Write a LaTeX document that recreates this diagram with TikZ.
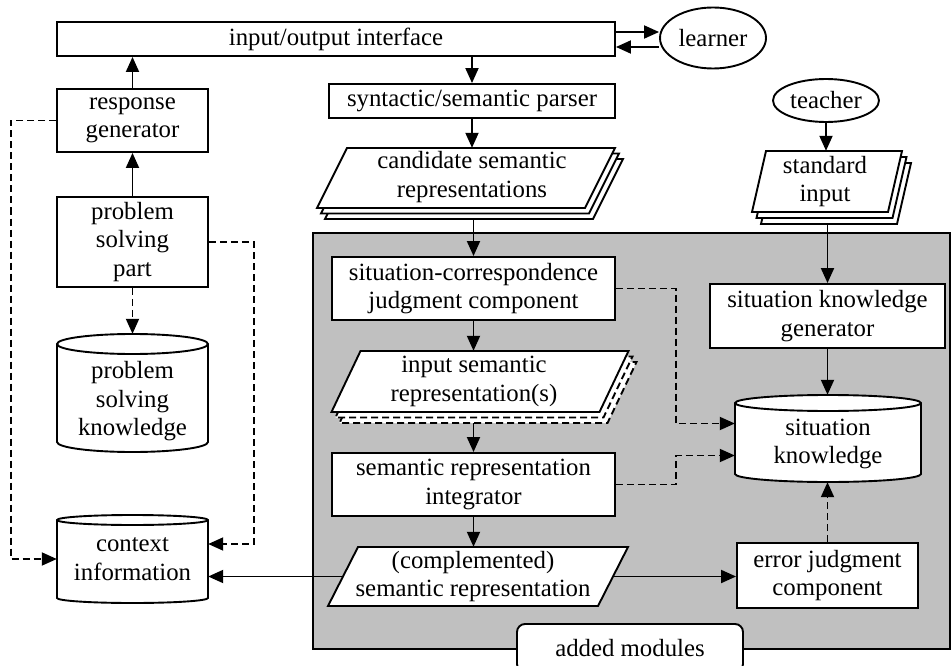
\documentclass[tikz,border=0pt]{standalone}
\usepackage{fontspec}
\setmainfont{Liberation Serif}
\usetikzlibrary{shapes.geometric,arrows.meta}
\definecolor{regiongray}{RGB}{192,192,192}

\tikzset{
  lw/.style={line width=1.9pt},
  arr/.style={lw, -{Triangle[length=15pt,width=13pt]}},
  darr/.style={arr, dash pattern=on 7pt off 4pt},
  box/.style={draw, lw, fill=white, inner sep=0pt, align=center},
  oval/.style={draw, ellipse, lw, fill=white, inner sep=0pt},
  lbl/.style={inner sep=0pt, align=center},
  blank/.style={inner sep=0pt},
  sheet/.style={draw, lw, fill=white},
  dsheet/.style={sheet, dash pattern=on 7pt off 4pt},
}

% parallelogram sheet: style, centre x, centre y, width, height, slant
\newcommand\sheetpath[6]{%
  \path[#1] ({#2-#4/2+#6/2},{#3-#5/2}) -- ({#2+#4/2+#6/2},{#3-#5/2})
    -- ({#2+#4/2-#6/2},{#3+#5/2}) -- ({#2-#4/2-#6/2},{#3+#5/2}) -- cycle;}

% database drum: left x, right x, top rim y, bottom rim y, rim half-height, half-width
\newcommand\drum[6]{%
  \draw[lw, fill=white] (#1,#3) -- (#1,#4)
    arc[start angle=180,end angle=360,x radius=#6pt,y radius=#5pt] -- (#2,#3)
    arc[start angle=0,end angle=180,x radius=#6pt,y radius=#5pt] -- cycle;
  \draw[lw] (#1,#3) arc[start angle=180,end angle=360,x radius=#6pt,y radius=#5pt];}

\begin{document}
\begin{tikzpicture}[x=1pt,y=-1pt,font=\fontsize{24.8}{28.5}\selectfont]
\useasboundingbox (0,0) rectangle (951,666);

% region holding the added modules
\draw[fill=regiongray, lw] (313,233) rectangle (950,649);
\node[draw, lw, fill=white, rounded corners=8pt, minimum width=226pt,
      minimum height=48pt, inner sep=0pt] (added) at (630,648) {added modules};

% top row
\node[box, minimum width=558pt, minimum height=34pt] (io) at (336,39) {input/output interface};
\node[oval, minimum width=106pt, minimum height=61pt] (learner) at (713,38) {learner};
\node[box, minimum width=286pt, minimum height=34pt] (parser) at (472,101) {syntactic/semantic parser};
\node[oval, minimum width=106pt, minimum height=43pt] (teacher) at (826,100.5) {teacher};

% left column
\node[box, minimum width=151pt, minimum height=63pt] (resp) at (132.5,120.5) {response\\generator};
\node[box, minimum width=151pt, minimum height=90pt] (psp) at (132.5,242) {problem\\solving\\part};
\drum{57}{208}{344}{442}{10}{75.5}
\node[blank, minimum width=151pt, minimum height=118pt] (psk) at (132.5,393) {};
\node[lbl] (pskText) at (132.5,401.5) {problem\\solving\\knowledge};
\drum{57}{208}{520}{598}{5}{75.5}
\node[lbl, minimum width=151pt, minimum height=88pt] (ctx) at (132.5,559) {context\\information};

% candidate semantic representations (stack of sheets)
\sheetpath{sheet, xshift=8pt, yshift=-11pt}{466}{178}{268}{60}{30}
\sheetpath{sheet, xshift=4pt, yshift=-5.5pt}{466}{178}{268}{60}{30}
\sheetpath{sheet}{466}{178}{268}{60}{30}
\node[blank, minimum width=268pt, minimum height=60pt] (cand) at (466,178) {};
\node[lbl] (candText) at (472,177) {candidate semantic\\representations};

% standard input (stack of sheets)
\sheetpath{sheet, xshift=9pt, yshift=-12pt}{827}{181.5}{136}{61}{14}
\sheetpath{sheet, xshift=4.5pt, yshift=-6pt}{827}{181.5}{136}{61}{14}
\sheetpath{sheet}{827}{181.5}{136}{61}{14}
\node[blank, minimum width=136pt, minimum height=61pt] (stdin) at (827,181.5) {};
\node[lbl] (stdinText) at (825,181.5) {standard\\input};

% added modules
\node[box, minimum width=283pt, minimum height=63pt] (sitc) at (473.5,288.5) {situation-correspondence\\judgment component};

\sheetpath{dsheet, xshift=8pt, yshift=-11pt}{480}{381.5}{268}{61}{29}
\sheetpath{dsheet, xshift=4pt, yshift=-5.5pt}{480}{381.5}{268}{61}{29}
\sheetpath{sheet}{480}{381.5}{268}{61}{29}
\node[blank, minimum width=268pt, minimum height=61pt] (insem) at (480,381.5) {};
\node[lbl] (insemText) at (474,381.5) {input semantic\\representation(s)};

\node[box, minimum width=283pt, minimum height=63pt] (integ) at (473.5,484.5) {semantic representation\\integrator};

\sheetpath{sheet}{478}{576.5}{270}{59}{30}
\node[blank, minimum width=270pt, minimum height=59pt] (comp) at (478,576.5) {};
\node[lbl] (compText) at (473,576.5) {(complemented)\\semantic representation};

\node[box, minimum width=235pt, minimum height=64pt] (skg) at (827.5,316) {situation knowledge\\generator};
\drum{735}{921}{403}{474}{8}{93}
\node[blank, minimum width=186pt, minimum height=87pt] (sitk) at (828,438.5) {};
\node[lbl] (sitkText) at (828,444) {situation\\knowledge};
\node[box, minimum width=181pt, minimum height=65pt] (err) at (827.5,575.5) {error judgment\\component};

% solid connectors
\draw[arr] ([yshift=7pt]io.east) -- ([yshift=7pt]io.east -| learner.west);
\draw[arr] ([yshift=-8pt]io.east -| learner.west) -- ([yshift=-8pt]io.east);
\draw[arr] (io.south -| parser.north) -- (parser.north);
\draw[arr] (parser.south) -- (parser.south |- cand.north);
\draw[arr] ([yshift=-11pt]cand.south -| sitc.north) -- (sitc.north);
\draw[arr] (sitc.south) -- (sitc.south |- insem.north);
\draw[arr] ([yshift=-11pt]insem.south -| integ.north) -- (integ.north);
\draw[arr] (integ.south) -- (integ.south |- comp.north);
\draw[arr] (comp.west) -- (comp.west -| ctx.east);
\draw[arr] (comp.east) -- (comp.east -| err.west);
\draw[arr] (teacher.south) -- (teacher.south |- stdin.north);
\draw[arr] ([yshift=-12pt]stdin.south -| skg.north) -- (skg.north);
\draw[arr] (skg.south) -- (skg.south |- sitk.north);
\draw[arr] (psp.north) -- (resp.south);
\draw[arr] (resp.north) -- (resp.north |- io.south);

% dashed connectors
\draw[darr] (psp.south) -- (psk.north);
\draw[darr] (resp.west) -- ++(-45,0) |- (ctx.west);
\draw[darr] (psp.east) -- ++(45,0) |- ([yshift=15pt]ctx.east);
\draw[darr] (sitc.east) -- ++(60,0) |- ([yshift=15pt]sitk.west);
\draw[darr] (integ.east) -- ++(60,0) |- ([yshift=-17pt]sitk.west);
\draw[darr] (err.north) -- (err.north |- sitk.south);
\end{tikzpicture}
\end{document}
